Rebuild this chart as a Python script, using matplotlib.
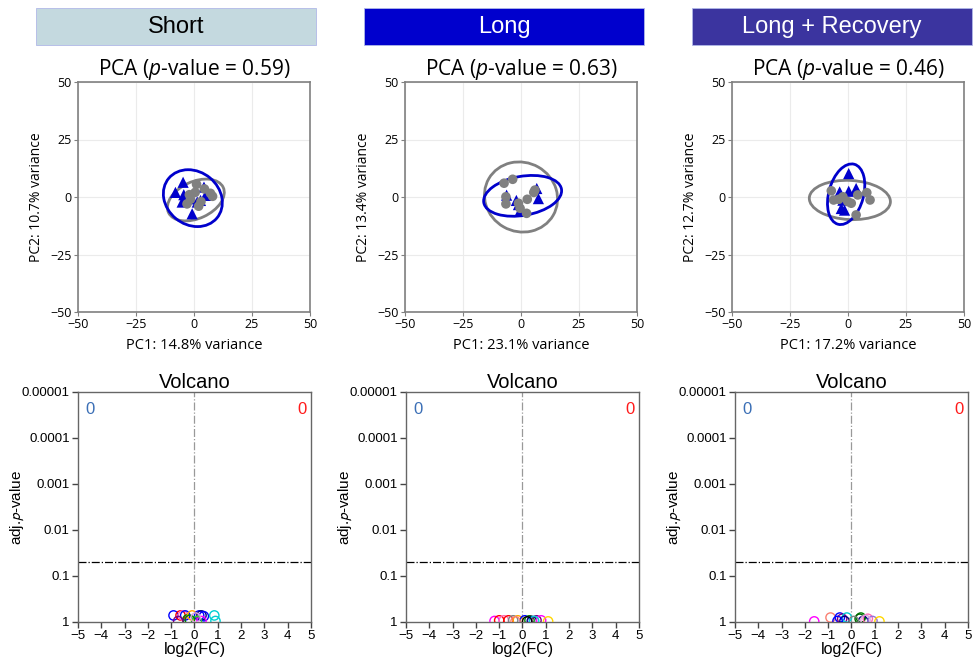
import matplotlib
import matplotlib.pyplot as plt
from matplotlib.patches import Ellipse, Rectangle

matplotlib.use("Agg")

# ---- data ----
groups = ["Short", "Long", "Long + Recovery"]
banner_colors = ["#c4d9df", "#0000cd", "#3b349f"]
banner_text_colors = ["black", "white", "white"]
pca_pvalues = [0.59, 0.63, 0.46]
pc1_var = [14.8, 23.1, 17.2]
pc2_var = [10.7, 13.4, 12.7]

# PCA scores: grey circles (control), blue triangles (treated)
short_ctrl_pc1 = [1.1, 7.1, 8.0, -1.5, 3.0, -3.0, 0.5, 4.5, -2.0, 2.0]
short_ctrl_pc2 = [5.5, 1.6, 0.3, -1.0, -2.0, -3.0, 2.0, 3.5, 1.0, -4.0]
short_trt_pc1 = [-4.7, -8.0, -4.4, 4.3, -5.1, -0.8, 2.8, 5.0, -0.8, 1.4]
short_trt_pc2 = [6.4, 2.0, 1.0, 4.3, -2.2, -0.8, -1.5, 0.7, -7.3, -2.2]

long_ctrl_pc1 = [-7.3, -3.6, -6.5, -6.5, -1.1, 2.7, 2.4, -0.4, 6.0, 5.5]
long_ctrl_pc2 = [6.0, 7.7, 0.1, -3.0, -2.7, -1.0, -7.1, -4.9, 3.0, 2.0]
long_trt_pc1 = [-6.2, -1.1, 6.8, 7.5, -0.4, -2.0]
long_trt_pc2 = [0.8, -3.3, 3.7, -0.7, -6.0, -1.5]

lr_ctrl_pc1 = [-7.2, -6.2, -2.2, -0.1, 4.2, 8.1, 9.5, 3.5, 1.4, -4.0]
lr_ctrl_pc2 = [2.7, -1.3, 0.1, -2.0, 0.9, 1.9, -1.3, -7.8, -2.7, -1.0]
lr_trt_pc1 = [0.3, -3.6, 0.3, 3.5, -2.2, -2.9, -1.5]
lr_trt_pc2 = [10.2, 2.2, 2.5, 3.7, -1.4, -5.0, -5.7]

# ellipses: centre x, centre y, width, height, angle
ctrl_ellipses = [(0.8, -1.3, 26, 16, 25), (0.0, 0.0, 32, 30, -30), (0.8, -1.3, 35, 17, -3)]
trt_ellipses = [(-0.5, -0.5, 27, 23, -40), (0.7, 0.5, 34, 17, 10), (-0.8, 1.2, 27, 15, 75)]

# volcano points: log2 fold change, adj. p-value, colour
short_fc = [-0.9, -0.6, -0.5, -0.4, -0.3, -0.1, 0.2, 0.3, 0.4, 0.85, 0.9, -0.7, 0.3, 0.1, -0.2, 0.05]
short_p = [0.72, 0.72, 0.72, 0.72, 0.88, 0.72, 0.72, 0.72, 0.75, 0.72, 0.95, 0.95, 0.95, 0.95, 0.9, 0.8]
short_col = ["blue", "red", "hotpink", "blue", "green", "orange", "blue", "navy", "blue",
             "darkturquoise", "darkturquoise", "purple", "magenta", "limegreen", "green", "plum"]

long_fc = [-1.2, -1.0, -0.8, -0.6, -0.4, -0.2, 0.1, 0.3, 0.4, 0.6, 0.8, 1.1, 0.5, -0.3, 0.2]
long_p = [0.95, 0.92, 0.92, 0.92, 0.92, 0.92, 0.92, 0.92, 0.95, 0.92, 0.92, 0.97, 0.95, 0.97, 0.97]
long_col = ["magenta", "red", "hotpink", "red", "gray", "orange", "blue", "green", "navy",
            "purple", "magenta", "gold", "darkturquoise", "salmon", "black"]

lr_fc = [-1.6, -0.9, -0.5, -0.4, -0.2, -0.3, 0.4, 0.35, 0.5, 0.7, 0.9, 1.2, 0.1, -0.6, 0.6]
lr_p = [0.97, 0.8, 0.8, 0.85, 0.8, 0.95, 0.8, 0.85, 0.95, 0.85, 0.95, 0.97, 0.95, 0.95, 0.9]
lr_col = ["magenta", "salmon", "blue", "purple", "darkturquoise", "navy", "green", "darkgreen",
          "navy", "hotpink", "mediumpurple", "gold", "gray", "blue", "plum"]

down_counts = [0, 0, 0]
up_counts = [0, 0, 0]
p_threshold = 0.05

pca_ctrl = [(short_ctrl_pc1, short_ctrl_pc2), (long_ctrl_pc1, long_ctrl_pc2), (lr_ctrl_pc1, lr_ctrl_pc2)]
pca_trt = [(short_trt_pc1, short_trt_pc2), (long_trt_pc1, long_trt_pc2), (lr_trt_pc1, lr_trt_pc2)]
volcano = [(short_fc, short_p, short_col), (long_fc, long_p, long_col), (lr_fc, lr_p, lr_col)]

# ---- figure ----
plt.rcParams["mathtext.fontset"] = "custom"
plt.rcParams["mathtext.rm"] = "Open Sans"
plt.rcParams["mathtext.it"] = "Open Sans:italic"

W, H = 979, 659
fig = plt.figure(figsize=(W / 100, H / 100), dpi=100)

banner_x = [36, 364, 692]
pca_x = [78, 405, 732]
volc_x = [78, 406, 735]
grey = "#808080"
blue = "#0000cc"
arial = "Liberation Sans"
osans = "Open Sans"

for i in range(3):
    # group banner
    x0 = banner_x[i] / W
    rect = Rectangle((x0, 1 - 45 / H), 280 / W, 37 / H, transform=fig.transFigure,
                     facecolor=banner_colors[i], edgecolor="#b0b8e8", lw=0.6)
    fig.patches.append(rect)
    fig.text(x0 + 140 / W, 1 - 27 / H, groups[i], ha="center", va="center",
             fontsize=17, family=arial, color=banner_text_colors[i])

    # PCA panel
    ax = fig.add_axes([pca_x[i] / W, (H - 312) / H, 232 / W, 230 / H])
    e = ctrl_ellipses[i]
    ax.add_patch(Ellipse((e[0], e[1]), e[2], e[3], angle=e[4], fill=False,
                         edgecolor=grey, lw=2, zorder=2))
    e = trt_ellipses[i]
    ax.add_patch(Ellipse((e[0], e[1]), e[2], e[3], angle=e[4], fill=False,
                         edgecolor=blue, lw=2, zorder=2))
    ax.scatter(pca_trt[i][0], pca_trt[i][1], marker="^", s=65, color=blue, zorder=3,
               edgecolors="none")
    ax.scatter(pca_ctrl[i][0], pca_ctrl[i][1], marker="o", s=48, color=grey, zorder=4,
               edgecolors="none")
    ax.set_xlim(-50, 50)
    ax.set_ylim(-50, 50)
    ax.set_xticks([-50, -25, 0, 25, 50])
    ax.set_yticks([-50, -25, 0, 25, 50])
    ax.grid(True, color="#ebebeb", lw=0.8)
    ax.set_axisbelow(True)
    for s in ax.spines.values():
        s.set_color(grey)
        s.set_linewidth(1.2)
    ax.tick_params(length=3, width=0.8, color=grey, labelsize=9, pad=1.5)
    for lab in ax.get_xticklabels() + ax.get_yticklabels():
        lab.set_family(osans)
    ax.set_xlabel(f"PC1: {pc1_var[i]}% variance", family=osans, fontsize=10.5)
    ax.set_ylabel(f"PC2: {pc2_var[i]}% variance", family=osans, fontsize=10)
    ax.xaxis.set_label_coords(0.5, -0.115)
    ax.yaxis.set_label_coords(-0.145, 0.5)
    ax.set_title(f"PCA ($\\it{{p}}$-value = {pca_pvalues[i]})", family=osans,
                 fontsize=15, pad=3)

    # volcano panel
    vx = fig.add_axes([volc_x[i] / W, (H - 622) / H, 233 / W, 230 / H])
    fc, pv, col = volcano[i]
    vx.scatter(fc, pv, s=45, facecolors="none", edgecolors=col, lw=1, zorder=3)
    vx.set_yscale("log")
    vx.set_ylim(1, 1e-5)
    vx.set_xlim(-5, 5)
    vx.set_xticks(range(-5, 6))
    vx.set_yticks([1e-5, 1e-4, 1e-3, 1e-2, 1e-1, 1])
    vx.set_yticklabels(["0.00001", "0.0001", "0.001", "0.01", "0.1", "1"])
    vx.minorticks_off()
    vx.axvline(0, color="#999999", lw=0.9, ls="-.", zorder=1)
    vx.axhline(p_threshold, color="black", lw=0.9, ls="-.", zorder=1)
    for s in vx.spines.values():
        s.set_color("#666666")
        s.set_linewidth(1.0)
    vx.tick_params(length=4, width=1, color="#444444", labelsize=9.5, pad=2)
    for lab in vx.get_xticklabels() + vx.get_yticklabels():
        lab.set_family(arial)
    vx.set_title("Volcano", family=arial, fontsize=14.5, pad=2)
    vx.set_xlabel("log2(FC)", family=arial, fontsize=11.5, labelpad=0)
    vx.set_ylabel("adj.$\\it{p}$-value", family=arial, fontsize=11,
                  math_fontfamily="stixsans")
    vx.yaxis.set_label_coords(-0.225, 0.5)
    vx.text(0.05, 0.925, str(down_counts[i]), transform=vx.transAxes, color="#3b6fb6",
            fontsize=12, family=arial, ha="center", va="center")
    vx.text(0.96, 0.925, str(up_counts[i]), transform=vx.transAxes, color="#ff1a1a",
            fontsize=12, family=arial, ha="center", va="center")

fig.savefig("out.png", dpi=100)
